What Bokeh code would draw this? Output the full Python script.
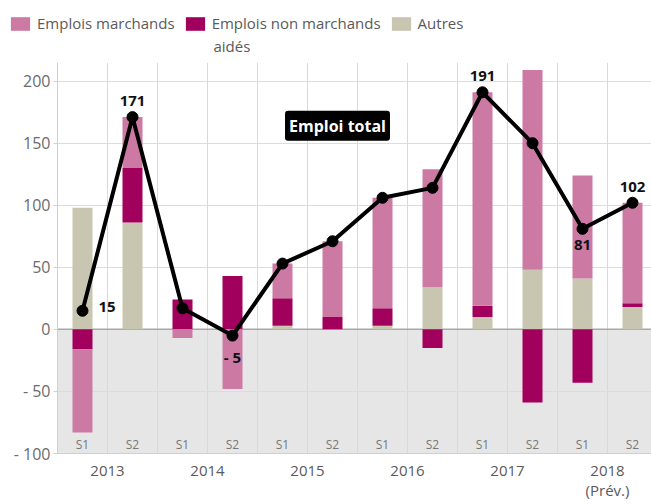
from bokeh.plotting import figure
from bokeh.layouts import column
from bokeh.models import (Range1d, FixedTicker, BoxAnnotation, Span, Label,
                          Legend, LegendItem, ColumnDataSource)
from bokeh.core.properties import value
from bokeh.embed import file_html
from bokeh.resources import INLINE

# ---- data ----
semesters = ["S1", "S2"] * 6
years = ["2013", "2014", "2015", "2016", "2017", "2018\n(Prév.)"]
autres = [98, 86, 0, 0, 3, 0, 3, 34, 10, 48, 41, 18]
non_marchands = [-16, 44, 24, 43, 22, 10, 14, -15, 9, -59, -43, 3]
marchands = [-67, 41, -7, -48, 28, 61, 89, 95, 172, 161, 83, 81]
total = [15, 171, 17, -5, 53, 71, 106, 114, 191, 150, 81, 102]
y_ticks = [-100, -50, 0, 50, 100, 150, 200]
series_names = {"m": "Emplois marchands", "nm": "Emplois non marchands",
                "autres": "Autres"}
series_name_line2 = "aidés"

FONT = "Open Sans"
COLORS = {"m": "#cc7aa4", "nm": "#a1005c", "autres": "#c8c6b0"}

n = len(total)
xs = [i + 0.5 for i in range(n)]

# stack positives upward and negatives downward separately
pos = [0.0] * n
neg = [0.0] * n
sources = {}
for name, vals in (("autres", autres), ("nm", non_marchands), ("m", marchands)):
    b, t = [], []
    for i, v in enumerate(vals):
        if v >= 0:
            b.append(pos[i]); t.append(pos[i] + v); pos[i] += v
        else:
            b.append(neg[i]); t.append(neg[i] + v); neg[i] += v
    sources[name] = ColumnDataSource(dict(x=xs, bottom=b, top=t))

p = figure(width=651, height=442, output_backend="svg", toolbar_location=None,
           x_range=Range1d(0, 11.88), y_range=Range1d(-100, 215),
           min_border_left=57, min_border_right=0, min_border_top=0,
           min_border_bottom=51)
p.outline_line_color = None
p.background_fill_color = "white"

neg_box = BoxAnnotation(top=0, fill_color="#e6e6e6", fill_alpha=1,
                        line_color=None, level="image")
p.add_layout(neg_box)

p.xgrid.ticker = FixedTicker(ticks=list(range(1, 12)))
p.xgrid.grid_line_color = "#d9d9d9"
p.ygrid.ticker = FixedTicker(ticks=[-50, 50, 100, 150, 200])
p.ygrid.grid_line_color = "#dcdcdc"

p.add_layout(Span(location=0, dimension="width", line_color="#a8a8a8",
                  line_width=1.5, level="underlay"))

for name in ("autres", "nm", "m"):
    p.vbar(x="x", bottom="bottom", top="top", width=0.4, source=sources[name],
           fill_color=COLORS[name], line_color=None)

p.line(xs, total, line_color="black", line_width=4)
p.scatter(xs, total, size=11, color="black")

def fmt(v):
    return f"- {abs(v)}" if v < 0 else str(v)

def labels(idx, **kw):
    src = ColumnDataSource(dict(x=[xs[i] for i in idx], y=[total[i] for i in idx],
                                t=[fmt(total[i]) for i in idx]))
    p.text(x="x", y="y", text="t", source=src, text_font=value(FONT),
           text_font_style="bold", text_font_size="15px", text_color="#111111",
           **kw)

labels([1, 8, 11], text_align="center", text_baseline="bottom", y_offset=-11)
labels([3, 10], text_align="center", text_baseline="top", y_offset=11)
labels([0], text_align="left", text_baseline="middle", x_offset=16, y_offset=-4)

# semester labels inside the frame
p.text(x=xs, y=[y_ticks[0]] * n, text=semesters, text_font=value(FONT),
       text_font_size="12px", text_color="#777777", text_align="center",
       text_baseline="bottom", y_offset=-1)

p.add_layout(Label(x=5.6, y=164, text="Emploi total", text_color="white",
                   text_font=FONT, text_font_style="bold", text_font_size="16px",
                   text_align="center", text_baseline="middle",
                   background_fill_color="black", padding=4, border_radius=3))

# axes
p.yaxis.ticker = FixedTicker(ticks=y_ticks)
p.yaxis.major_label_overrides = {v: fmt(v) for v in y_ticks}
p.yaxis.major_label_text_font = FONT
p.yaxis.major_label_text_font_size = "16px"
p.yaxis.major_label_text_color = "#6b6b6b"
p.yaxis.axis_line_color = "#d0d0d0"
p.yaxis.major_tick_line_color = "#d0d0d0"
p.yaxis.major_tick_in = 0
p.yaxis.major_tick_out = 4
p.yaxis.minor_tick_line_color = None
p.yaxis.major_label_standoff = 3

p.xaxis.ticker = FixedTicker(ticks=[1, 3, 5, 7, 9, 11])
p.xaxis.major_label_overrides = {2 * i + 1: y for i, y in enumerate(years)}
p.xaxis.major_label_text_font = FONT
p.xaxis.major_label_text_font_size = "15px"
p.xaxis.major_label_text_line_height = 1.0
p.xaxis.major_label_text_color = "#5a5a5a"
p.xaxis.axis_line_color = "#d0d0d0"
p.xaxis.major_tick_line_color = None
p.xaxis.minor_tick_line_color = None
p.xaxis.major_tick_out = 0
p.xaxis.minor_tick_out = 0
p.xaxis.major_tick_in = 0
p.xaxis.major_label_standoff = 6

# ---- legend strip above the chart (bars kept out of its view) ----
lg = figure(width=651, height=62, output_backend="svg", toolbar_location=None,
            x_range=Range1d(0, 1), y_range=Range1d(1000, 1001),
            x_axis_location=None, y_axis_location=None,
            min_border_left=0, min_border_right=0,
            min_border_top=0, min_border_bottom=0)
try:
    lg.frame_align = False
except Exception:
    pass
lg.grid.visible = False
lg.outline_line_color = None
items = []
for name in ("m", "nm", "autres"):
    r = lg.vbar(x="x", bottom="bottom", top="top", width=0.4, source=sources[name],
                fill_color=COLORS[name], line_color=None)
    items.append(LegendItem(label=series_names[name], renderers=[r]))
legend = Legend(items=items, location=(8, 29), orientation="horizontal",
                glyph_width=24, glyph_height=17,
                label_text_font=FONT, label_text_font_size="15px",
                label_text_color="#5a5a5a", border_line_color=None,
                background_fill_alpha=0, padding=0, spacing=8,
                label_standoff=5, margin=0)
lg.add_layout(legend)
lg.add_layout(Label(x=213, y=17, x_units="screen", y_units="screen",
                    text=series_name_line2, text_font=FONT, text_font_size="15px",
                    text_color="#5a5a5a", text_baseline="middle"))

layout = column(lg, p, spacing=0)
open("out.html", "w").write(file_html(layout, INLINE))
